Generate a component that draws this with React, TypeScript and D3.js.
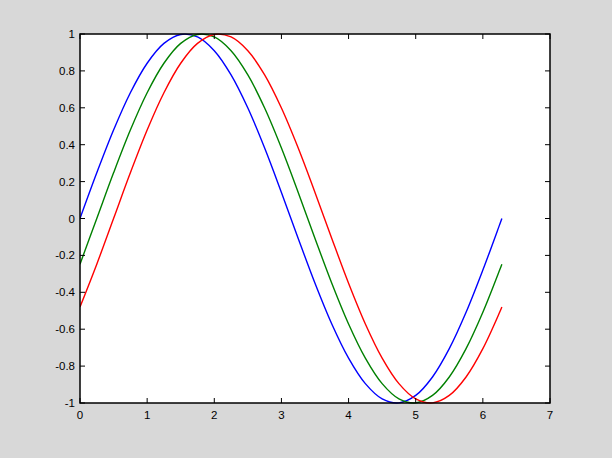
import React from "react";
import * as d3 from "d3";

// x positions (0 to 2π)
const xValues = [0, 0.25, 0.5, 0.75, 1, 1.25, 1.5, 1.75, 2, 2.25, 2.5, 2.75, 3, 3.25, 3.5, 3.75, 4, 4.25, 4.5, 4.75, 5, 5.25, 5.5, 5.75, 6, 6.25, 6.2832];

const blueValues = [0, 0.2474, 0.4794, 0.6816, 0.8415, 0.949, 0.9975, 0.984, 0.9093, 0.7781, 0.5985, 0.3817, 0.1411, -0.1082, -0.3508, -0.5716, -0.7568, -0.895, -0.9775, -0.9993, -0.9589, -0.8589, -0.7055, -0.5083, -0.2794, -0.0332, 0];
const greenValues = [-0.2474, 0, 0.2474, 0.4794, 0.6816, 0.8415, 0.949, 0.9975, 0.984, 0.9093, 0.7781, 0.5985, 0.3817, 0.1411, -0.1082, -0.3508, -0.5716, -0.7568, -0.895, -0.9775, -0.9993, -0.9589, -0.8589, -0.7055, -0.5083, -0.2794, -0.2474];
const redValues = [-0.4794, -0.2474, 0, 0.2474, 0.4794, 0.6816, 0.8415, 0.949, 0.9975, 0.984, 0.9093, 0.7781, 0.5985, 0.3817, 0.1411, -0.1082, -0.3508, -0.5716, -0.7568, -0.895, -0.9775, -0.9993, -0.9589, -0.8589, -0.7055, -0.5083, -0.4794];

const xTicks = [0, 1, 2, 3, 4, 5, 6, 7];
const yTicks = [-1, -0.8, -0.6, -0.4, -0.2, 0, 0.2, 0.4, 0.6, 0.8, 1];

const seriesList = [
  { name: "blue", values: blueValues, color: "#0000ff" },
  { name: "green", values: greenValues, color: "#008000" },
  { name: "red", values: redValues, color: "#ff0000" },
];

export default function App() {
  const W = 612, H = 458;
  const left = 80, right = 550, top = 34, bottom = 403;
  const x = d3.scaleLinear().domain([0, 7]).range([left, right]);
  const y = d3.scaleLinear().domain([-1, 1]).range([bottom, top]);
  const line = d3
    .line<number>()
    .x((_, i) => x(xValues[i]))
    .y((d) => y(d))
    .curve(d3.curveCatmullRom.alpha(0.5));
  const tickLen = 5;
  const fmt = (v: number) => (Math.abs(v) < 1e-9 ? "0" : String(Number(v.toFixed(1))));
  return (
    <svg width={W} height={H} style={{ position: "absolute", left: 0, top: 0 }}
      fontFamily="'Liberation Sans', Arial, sans-serif">
      <rect x={0} y={0} width={W} height={H} fill="#d8d8d8" />
      <rect x={left} y={top} width={right - left} height={bottom - top} fill="#ffffff" />
      <defs>
        <clipPath id="plotclip">
          <rect x={left} y={top - 1} width={right - left} height={bottom - top + 2} />
        </clipPath>
      </defs>
      <g clipPath="url(#plotclip)">
        {seriesList.map((s) => (
          <path key={s.name} d={line(s.values) || ""} fill="none" stroke={s.color} strokeWidth={1.4} />
        ))}
      </g>
      {xTicks.map((t) => (
        <g key={"x" + t}>
          <line x1={x(t)} x2={x(t)} y1={bottom} y2={bottom - tickLen} stroke="#000" strokeWidth={1} />
          <line x1={x(t)} x2={x(t)} y1={top} y2={top + tickLen} stroke="#000" strokeWidth={1} />
          <text x={x(t)} y={bottom + 16} textAnchor="middle" fontSize={11.5} fill="#000">{fmt(t)}</text>
        </g>
      ))}
      {yTicks.map((t) => (
        <g key={"y" + t}>
          <line x1={left} x2={left + tickLen} y1={y(t)} y2={y(t)} stroke="#000" strokeWidth={1} />
          <line x1={right} x2={right - tickLen} y1={y(t)} y2={y(t)} stroke="#000" strokeWidth={1} />
          <text x={left - 5} y={y(t) + 4} textAnchor="end" fontSize={11.5} fill="#000">{fmt(t)}</text>
        </g>
      ))}
      <rect x={left} y={top} width={right - left} height={bottom - top} fill="none" stroke="#000" strokeWidth={1.5} />
    </svg>
  );
}
